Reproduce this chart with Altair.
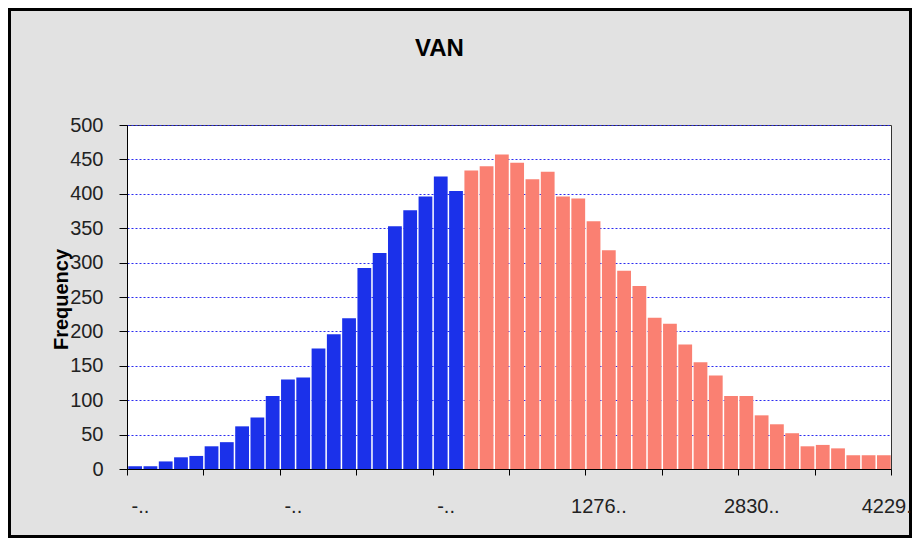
import json
import altair as alt
import pandas as pd

# ---- data ----
freq_negative = [4, 4, 11, 17, 19, 33, 39, 62, 75, 106, 130, 133, 175, 196, 219,
                 292, 314, 353, 376, 396, 425, 404]
freq_positive = [434, 440, 457, 445, 421, 432, 396, 393, 360, 318, 288, 266, 220,
                 211, 181, 155, 136, 106, 106, 78, 65, 52, 33, 35, 30, 20, 20, 20]
tick_positions = [0, 5, 10, 15, 20, 25, 30, 35, 40, 45, 50]
label_positions = [0, 10, 20, 30, 40, 50]
tick_labels = ["-..", "-..", "-..", "1276..", "2830..", "4229.."]
y_ticks = [0, 50, 100, 150, 200, 250, 300, 350, 400, 450, 500]
sign_domain = ["negative", "positive"]
sign_colors = ["#1B31EA", "#FA8072"]

freq = freq_negative + freq_positive
n = len(freq)
df = pd.DataFrame({
    "bin_start": list(range(n)),
    "bin_end": list(range(1, n + 1)),
    "freq": freq,
    "sign": ["negative"] * len(freq_negative) + ["positive"] * len(freq_positive),
})

pos_js = json.dumps(label_positions)
lab_js = json.dumps(tick_labels)
label_expr = (f"indexof({pos_js}, datum.value) >= 0 ? "
              f"{lab_js}[indexof({pos_js}, datum.value)] : ''")

FONT = "Liberation Sans"

bars = alt.Chart(df).mark_bar(binSpacing=1.5).encode(
    x=alt.X(
        "bin_start:Q", bin="binned",
        scale=alt.Scale(domain=[0, n], nice=False, zero=False),
        axis=alt.Axis(
            values=tick_positions, labelExpr=label_expr, title=None,
            tickSize=6, tickColor="black", domainColor="black",
            labelFont=FONT, labelFontSize=20, labelColor="#222222",
            labelBaseline="alphabetic", labelPadding=37,
            labelOffset={"condition": {"test": "datum.value == 50", "value": -2}, "value": 13},
            labelOverlap=False, labelBound=False, labelFlush=False,
            grid=False, zindex=1,
        ),
    ),
    x2="bin_end:Q",
    y=alt.Y(
        "freq:Q",
        scale=alt.Scale(domain=[0, 500], nice=False),
        axis=alt.Axis(
            values=y_ticks, title="Frequency",
            titleFont=FONT, titleFontSize=20, titleFontWeight="bold", titleColor="black",
            titleAngle=270, titleBaseline="alphabetic", titleAlign="center",
            titleX=-60, titleY=174,
            tickSize=8, tickColor="black", domainColor="black",
            labelFont=FONT, labelFontSize=20, labelColor="#222222", labelPadding=16,
            grid=True, gridColor="#2B2BF0", gridDash=[2, 2], gridWidth=1,
        ),
    ),
    color=alt.Color("sign:N", scale=alt.Scale(domain=sign_domain, range=sign_colors), legend=None),
)

frame = alt.Chart(pd.DataFrame({"f": [0]})).mark_rect(
    fillOpacity=0, stroke="black", strokeWidth=3
).encode(
    x=alt.value(-117.5), x2=alt.value(783.5), y=alt.value(-115.5), y2=alt.value(411.5)
)

chart = alt.layer(bars, frame).properties(
    width=764, height=344,
    autosize=alt.AutoSizeParams(type="none"),
    padding={"left": 119, "top": 117, "right": 21, "bottom": 69},
    title=alt.TitleParams(
        "VAN", font=FONT, fontSize=24, fontWeight="bold", color="black",
        anchor="middle", dx=-69.5, offset=-72, baseline="alphabetic",
    ),
).configure(background="#E2E2E2").configure_view(stroke="#333333", strokeWidth=1, fill="white")

chart.save("out.html", embed_options={"renderer": "svg", "actions": False})
